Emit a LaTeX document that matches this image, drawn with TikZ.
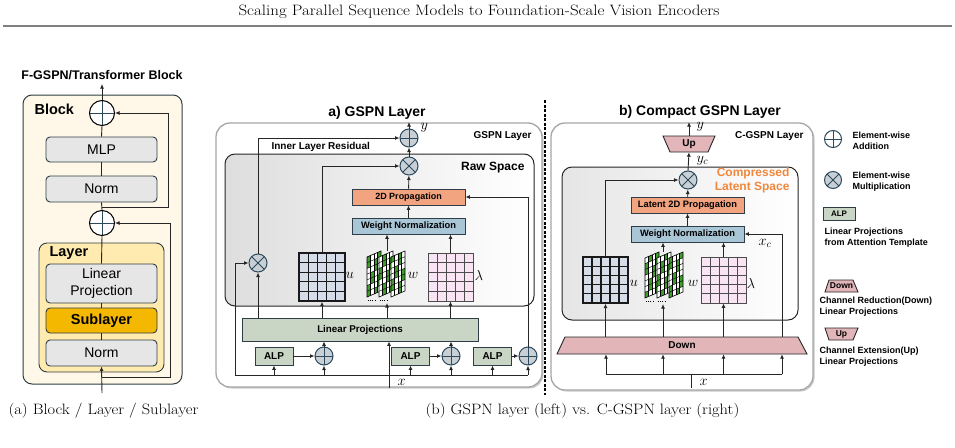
\documentclass[tikz,border=0pt]{standalone}
\usepackage{fontspec}
\newfontfamily\dsans{Liberation Sans}
\usetikzlibrary{arrows.meta,calc,shadows}
\definecolor{cdark}{HTML}{2F3E46}
\definecolor{cblue}{HTML}{2C4A5C}
\definecolor{boxgray}{HTML}{E6E6E6}
\definecolor{blockfill}{HTML}{FFF8E8}
\definecolor{layerfill}{HTML}{FFEBB0}
\definecolor{subfill}{HTML}{F5B800}
\definecolor{circfill}{HTML}{C9D0D5}
\definecolor{propfill}{HTML}{F2A380}
\definecolor{wnfill}{HTML}{A9C6D6}
\definecolor{lpfill}{HTML}{C9D5C5}
\definecolor{trapfill}{HTML}{E2B5B9}
\definecolor{orangetxt}{HTML}{F0883E}
\definecolor{ugridc}{HTML}{D6DDE8}
\definecolor{lgridc}{HTML}{F9E4F3}
\definecolor{wgreen}{HTML}{3F9E2B}
\definecolor{outerline}{HTML}{A6A6A6}

\tikzset{
 ln/.style={line width=0.9pt, draw=black!85},
 arr/.style={ln, -{Latex[length=4.5pt,width=4pt]}},
 sfb/.style={font=\dsans\bfseries\fontsize{#1}{#1}\selectfont},
 sfr/.style={font=\dsans\fontsize{#1}{#1}\selectfont},
 mth/.style={font=\fontsize{14}{14}\selectfont},
 opl/.style={circle, draw=cblue, fill=circfill, line width=1pt, minimum size=#1, inner sep=0pt,
   path picture={\draw[cblue, line width=1pt] (path picture bounding box.north) -- (path picture bounding box.south) (path picture bounding box.west) -- (path picture bounding box.east);}},
 otm/.style={circle, draw=cblue, fill=circfill, line width=1pt, minimum size=#1, inner sep=0pt,
   path picture={\draw[cblue, line width=1pt] (path picture bounding box.north west) -- (path picture bounding box.south east) (path picture bounding box.north east) -- (path picture bounding box.south west);}},
 gbox/.style={draw=cdark, fill=boxgray, line width=0.9pt, rounded corners=4pt, inner sep=0pt, sfr=14},
 cbox/.style={draw=cdark, line width=0.9pt, inner sep=0pt, sfb=9.3},
 trapst/.style={draw=black!85, fill=trapfill, line width=0.9pt},
 outerbox/.style={draw=outerline, line width=1.3pt, fill=white, rounded corners=14pt,
   drop shadow={shadow xshift=1.5pt, shadow yshift=-1.5pt, fill=black!40}},
 spacebox/.style={draw=black!85, line width=1pt, rounded corners=10pt, left color=black!13, right color=white},
 mgrid/.style 2 args={draw=#2, line width=#1, minimum width=46pt, minimum height=48pt, inner sep=0pt,
   path picture={
     \foreach \gk in {1,...,4}{
       \draw[#2, line width=#1] ($(path picture bounding box.south west)!\gk/5!(path picture bounding box.south east)$) -- ($(path picture bounding box.north west)!\gk/5!(path picture bounding box.north east)$);
       \draw[#2, line width=#1] ($(path picture bounding box.south west)!\gk/5!(path picture bounding box.north west)$) -- ($(path picture bounding box.south east)!\gk/5!(path picture bounding box.north east)$);
     }}},
 legtxt/.style={font=\dsans\bfseries\fontsize{9}{11}\selectfont, align=left, anchor=west},
 captxt/.style={font=\fontsize{15}{15}\selectfont},
}

\newcommand\drawwsheets[3]{%
 \foreach \wk in {0,1,2}{
  \begin{scope}[shift={(#1+12*\wk,#2)}, cm={1,0.43,0,1,(0,0)}]
   \fill[white] (0,0) rectangle (14,-40);
   \foreach \wi in {0,...,3}{\foreach \wj in {0,...,6}{
      \pgfmathtruncatemacro\wg{mod(3*\wi+\wj+2*\wk+#3,5)<2 ? 1 : 0}
      \ifnum\wg=1 \fill[wgreen] (\wi*3.5,-\wj*5.714) rectangle ++(3.5,-5.714);\fi
   }}
   \foreach \wi in {1,...,3} \draw[line width=0.45pt] (\wi*3.5,0) -- (\wi*3.5,-40);
   \foreach \wj in {1,...,6} \draw[line width=0.45pt] (0,-\wj*5.714) -- (14,-\wj*5.714);
   \draw[line width=0.6pt] (0,0) rectangle (14,-40);
  \end{scope}}
 \draw[line width=0.6pt, dash pattern=on 1pt off 1.2pt] (#1+1,#2+3) -- (#1+8,#2+3) (#1+13,#2+3) -- (#1+20,#2+3);
}

\begin{document}
\begin{tikzpicture}[x=1pt,y=-1pt]
\path[use as bounding box, fill=white] (0,0) rectangle (955,447);

% ---------- header ----------
\node[captxt] (title) at (479,12) {\scalebox{1.13}[1]{Scaling Parallel Sequence Models to Foundation-Scale Vision Encoders}};
\draw[line width=2pt, black!50] (3,25.5) -- (952,25.5);

% ---------- panel (a) ----------
\node[sfb=12.5] (fgspn) at (102,75) {F-GSPN/Transformer Block};
\node[draw=cdark, line width=1pt, fill=blockfill, rounded corners=9pt, minimum width=159pt, minimum height=289pt] (blk) at (102.5,239.5) {};
\node[sfb=14.5, anchor=west] (blklbl) at (31,109) {Block};
\node[opl=25pt, fill=white, draw=black] (tplus) at (102,113) {};
\node[gbox, minimum width=111pt, minimum height=25pt] (mlp) at (101.5,149.5) {MLP};
\node[gbox, minimum width=111pt, minimum height=26pt] (norma) at (101.5,189) {Norm};
\node[opl=25pt, fill=white, draw=black] (mplus) at (102,223) {};
\node[draw=cdark, line width=0.9pt, fill=layerfill, rounded corners=8pt, minimum width=125pt, minimum height=129pt] (lay) at (101.5,307.5) {};
\node[sfb=14.5, anchor=west] (laylbl) at (46,253) {Layer};
\node[gbox, minimum width=111pt, minimum height=39pt, align=center, font=\dsans\fontsize{14}{17}\selectfont] (lproj) at (101.5,283.5) {Linear\\Projection};
\node[gbox, fill=subfill, minimum width=111pt, minimum height=25pt, sfb=14.5] (sub) at (101.5,320.5) {Sublayer};
\node[gbox, minimum width=111pt, minimum height=26pt] (normb) at (101.5,353) {Norm};
\coordinate (ain) at (102,393);
\coordinate (aout) at (102,84);
\coordinate (ar1) at (102,207);
\coordinate (ar1r) at (168,207);
\coordinate (ar2) at (102,377);
\coordinate (ar2r) at (170,377);
\draw[arr] (ain) -- (normb.south);
\draw[ln] (normb) -- (sub);
\draw[ln] (sub) -- (lproj);
\draw[ln] (lproj.north) -- (mplus.south);
\draw[ln] (mplus.north) -- (norma.south);
\draw[ln] (norma) -- (mlp);
\draw[ln] (mlp.north) -- (tplus.south);
\draw[arr] (tplus.north) -- (aout);
\draw[arr] (ar1) -- (ar1r) |- (tplus.east);
\draw[arr] (ar2) -- (ar2r) |- (mplus.east);

% ---------- separator ----------
\draw[line width=1.3pt, dash pattern=on 3pt off 1.5pt] (545,100) -- (545,395);

% ---------- panel (b) GSPN ----------
\node[outerbox, minimum width=326pt, minimum height=264pt] (gout) at (379,255) {};
\node[sfb=14] (gtitle) at (377,113) {a) GSPN Layer};
\node[sfb=10, anchor=east] (glbl) at (535,136) {GSPN Layer};
\node[spacebox, minimum width=309pt, minimum height=152pt] (raw) at (379.5,230) {};
\node[sfb=12, anchor=east] (rawlbl) at (528,168) {Raw Space};
\node[opl=18pt] (py) at (409,138) {};
\node[otm=18pt] (tt) at (409,166) {};
\node[cbox, fill=propfill, minimum width=113pt, minimum height=16pt, sfb=9] (p2d) at (408.5,197) {2D Propagation};
\node[cbox, fill=wnfill, minimum width=113pt, minimum height=16pt] (wn) at (408.5,226) {Weight Normalization};
\node[mgrid={1.3pt}{black!90}, fill=ugridc] (ug) at (322,277) {};
\node[mgrid={0.8pt}{black!70}, fill=lgridc, minimum width=45pt] (lg) at (450.5,277) {};
\drawwsheets{367}{297}{0}
\coordinate (wt) at (387,251);
\coordinate (wb) at (387,303);
\node[mth] (ulbl) at (350,275) {$u$};
\node[mth] (wlbl) at (413,275) {$w$};
\node[mth] (llbl) at (479,275) {$\lambda$};
\node[cbox, fill=lpfill, minimum width=236pt, minimum height=23pt, sfb=9.8] (lp) at (360,329.5) {Linear Projections};
\node[otm=18pt] (tl) at (258,263) {};
\node[cbox, fill=lpfill, minimum width=38pt, minimum height=18pt, sfb=10] (a1) at (274,356) {ALP};
\node[cbox, fill=lpfill, minimum width=38pt, minimum height=18pt, sfb=10] (a2) at (410.5,356) {ALP};
\node[cbox, fill=lpfill, minimum width=38pt, minimum height=18pt, sfb=10] (a3) at (492.5,356) {ALP};
\node[opl=18pt] (q1) at (324,356) {};
\node[opl=18pt] (q2) at (451,356) {};
\node[opl=18pt] (q3) at (528,356) {};
\coordinate (bl) at (235,375);
\coordinate (br) at (528,375);
\coordinate (xa) at (389,388);
\coordinate (ya) at (409,122);
\draw[arr] (py.north) -- (ya);
\node[mth, anchor=west] (ylbl) at (417,128) {$y$};
\draw[arr] (tt) -- (py);
\draw[arr] (p2d) -- (tt);
\draw[arr] (wn) -- (p2d);
\draw[arr] (wt) -- (wt |- wn.south);
\draw[arr] (lg.north) -- (lg.north |- wn.south);
\draw[arr] (ug.north) |- (tt.west);
\draw[arr] (tl.north) |- (py.west);
\node[sfb=10, anchor=west] (irl) at (268,147) {Inner Layer Residual};
\draw[arr] (lp.north -| tl) -- (tl.south);
\draw[arr] (lp.north -| ug) -- (ug.south);
\draw[arr] (lp.north -| wb) -- (wb);
\draw[arr] (lp.north -| lg) -- (lg.south);
\draw[arr] (bl) |- (tl.west);
\draw[ln] (bl) -- (br);
\draw[arr] (a1.south |- bl) -- (a1.south);
\draw[arr] (a2.south |- bl) -- (a2.south);
\draw[arr] (a3.south |- bl) -- (a3.south);
\draw[arr] (q1.south |- bl) -- (q1.south);
\draw[arr] (q2.south |- bl) -- (q2.south);
\draw[arr] (br) -- (q3.south);
\draw[arr] (a1) -- (q1);
\draw[arr] (a2) -- (q2);
\draw[arr] (a3) -- (q3);
\draw[arr] (q1.north) -- (q1.north |- lp.south);
\draw[arr] (q2.north) -- (q2.north |- lp.south);
\draw[arr] (q3.north) |- (p2d.east);
\draw[arr] (xa) -- (xa |- lp.south);
\node[mth, anchor=west] (xlbl) at (394,382) {$x$};

% ---------- panel (c) C-GSPN ----------
\node[outerbox, minimum width=262pt, minimum height=267pt] (cout) at (682,256.5) {};
\node[sfb=14] (ctitle) at (700,112) {b) Compact GSPN Layer};
\node[sfb=10, anchor=east] (clbl) at (807,136) {C-GSPN Layer};
\node[spacebox, left color=black!10, minimum width=236pt, minimum height=153pt] (cls) at (680,243.5) {};
\node[font=\dsans\bfseries\fontsize{12}{14}\selectfont, text=orangetxt, align=right, anchor=east] (clslbl) at (793,180) {Compressed\\Latent Space};
\node[otm=18pt] (tc) at (688,180) {};
\node[cbox, fill=propfill, minimum width=113pt, minimum height=16pt] (lpr) at (687.5,205) {Latent 2D Propagation};
\node[cbox, fill=wnfill, minimum width=113pt, minimum height=16pt] (wnc) at (687.5,234) {Weight Normalization};
\node[mgrid={1.3pt}{black!90}, fill=ugridc, minimum width=45pt, minimum height=46pt] (ugc) at (605.5,280) {};
\node[mgrid={0.8pt}{black!70}, fill=lgridc, minimum width=45pt, minimum height=46pt] (lgc) at (723.5,280) {};
\drawwsheets{645}{298}{1}
\coordinate (wtc) at (663,252);
\coordinate (wbc) at (663,304);
\node[mth] (uclbl) at (634,283) {$u$};
\node[mth] (wclbl) at (693,283) {$w$};
\node[mth] (lclbl) at (751,283) {$\lambda$};
\draw[trapst] (663,136) -- (715,136) -- (708,152) -- (670,152) -- cycle;
\node[sfb=10, minimum width=38pt, minimum height=16pt] (up) at (689,144) {Up};
\draw[trapst] (565,337) -- (798,337) -- (807,354) -- (557,354) -- cycle;
\node[sfb=10, minimum width=233pt, minimum height=17pt] (dn) at (682,345.5) {Down};
\coordinate (cbl) at (606,374);
\coordinate (cbr) at (782,374);
\coordinate (xc) at (691,388);
\coordinate (yc) at (689,122);
\draw[arr] (up.north) -- (yc);
\node[mth, anchor=west] (yclbl1) at (693,127) {$y$};
\draw[arr] (tc.north) -- (up.south);
\node[mth, anchor=west] (yclbl2) at (693,161) {$y_c$};
\draw[arr] (lpr) -- (tc);
\draw[arr] (wnc) -- (lpr);
\draw[arr] (ugc.north) |- (tc.west);
\draw[arr] (wtc) -- (wtc |- wnc.south);
\draw[arr] (lgc.north) -- (lgc.north |- wnc.south);
\draw[arr] (dn.north -| cbr) |- (wnc.east);
\node[mth] (xclbl) at (765,243) {$x_c$};
\draw[arr] (dn.north -| ugc) -- (ugc.south);
\draw[arr] (dn.north -| wbc) -- (wbc);
\draw[arr] (dn.north -| lgc) -- (lgc.south);
\draw[ln] (cbl) -- (cbr);
\draw[ln] (xc) -- (xc |- cbl);
\draw[arr] (cbl) -- (cbl |- dn.south);
\draw[arr] (wbc |- cbl) -- (wbc |- dn.south);
\draw[arr] (lgc |- cbl) -- (lgc |- dn.south);
\draw[arr] (cbr) -- (cbr |- dn.south);
\node[mth, anchor=west] (xclbl2) at (696,382) {$x$};

% ---------- legend ----------
\node[opl=17pt, fill=white] (lg1) at (833,139) {};
\node[legtxt] (lgt1) at (849,141) {Element-wise\\Addition};
\node[otm=17pt] (lg2) at (833,180) {};
\node[legtxt] (lgt2) at (849,182) {Element-wise\\Multiplication};
\node[cbox, fill=lpfill, minimum width=32pt, minimum height=13pt, sfb=8] (lg3) at (839,213.5) {ALP};
\node[legtxt] (lgt3) at (821,238) {Linear Projections\\from Attention Template};
\draw[trapst] (829,280) -- (853,280) -- (858,292) -- (825,292) -- cycle;
\node[sfb=8.5] (lg4) at (841.5,286) {Down};
\node[legtxt] (lgt4) at (816,307) {Channel Reduction(Down)\\Linear Projections};
\draw[trapst] (825,328) -- (858,328) -- (853,340) -- (829,340) -- cycle;
\node[sfb=8.5] (lg5) at (841.5,334) {Up};
\node[legtxt] (lgt5) at (816,357) {Channel Extension(Up)\\Linear Projections};

% ---------- captions ----------
\node[anchor=west, captxt] (capa) at (5,411) {\scalebox{1.1}[1]{(a) Block / Layer / Sublayer}};
\node[anchor=west, captxt] (capb) at (422,411) {\scalebox{1.1}[1]{(b) GSPN layer (left) vs. C-GSPN layer (right)}};
\end{tikzpicture}
\end{document}
